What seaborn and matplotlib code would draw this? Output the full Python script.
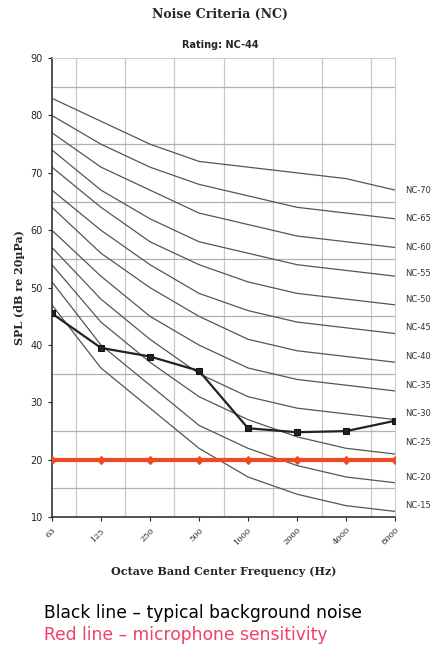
import matplotlib
matplotlib.use("Agg")
import matplotlib.pyplot as plt
import seaborn as sns
import pandas as pd

freqs = ["63", "125", "250", "500", "1000", "2000", "4000", "8000"]
nc_labels = ["NC-15", "NC-20", "NC-25", "NC-30", "NC-35", "NC-40", "NC-45",
             "NC-50", "NC-55", "NC-60", "NC-65", "NC-70"]
nc_curves = [
    [47, 36, 29, 22, 17, 14, 12, 11],
    [51, 40, 33, 26, 22, 19, 17, 16],
    [54, 44, 37, 31, 27, 24, 22, 21],
    [57, 48, 41, 35, 31, 29, 28, 27],
    [60, 52, 45, 40, 36, 34, 33, 32],
    [64, 56, 50, 45, 41, 39, 38, 37],
    [67, 60, 54, 49, 46, 44, 43, 42],
    [71, 64, 58, 54, 51, 49, 48, 47],
    [74, 67, 62, 58, 56, 54, 53, 52],
    [77, 71, 67, 63, 61, 59, 58, 57],
    [80, 75, 71, 68, 66, 64, 63, 62],
    [83, 79, 75, 72, 71, 70, 69, 67],
]
nc_label_y = [12, 17, 23, 28, 33, 38, 43, 48, 52.5, 57, 62, 67]
background = [45.5, 39.5, 38, 35.5, 25.5, 24.8, 25, 26.8]
mic = [20, 20, 20, 20, 20, 20, 20, 20]

sns.set_style("white")
fig = plt.figure(figsize=(4.4, 6.53), dpi=100)
ax = fig.add_axes([0.118, 0.208, 0.78, 0.703])
xs = list(range(len(freqs)))

for lab, vals, ly in zip(nc_labels, nc_curves, nc_label_y):
    sns.lineplot(x=xs, y=vals, ax=ax, color="#555555", lw=0.9, zorder=2)
    ax.text(7.2, ly, lab, fontsize=6, va="center", ha="left", color="#333333")

sns.lineplot(x=xs, y=background, ax=ax, color="#222222", lw=1.6, marker="s",
             markersize=5, markeredgecolor="#111111", zorder=4)
sns.lineplot(x=xs, y=mic, ax=ax, color="#f04a23", lw=3, marker="D",
             markersize=4.5, markeredgecolor="#f04a23", zorder=5)

ax.set_xlim(0, 7)
ax.set_ylim(10, 90)
ax.set_xticks(xs)
ax.set_xticklabels(freqs, rotation=45, fontsize=6, family="serif", ha="right",
                   rotation_mode="anchor")
ax.set_yticks(range(10, 91, 10))
ax.tick_params(axis="y", labelsize=7, length=3, direction="out", left=True)
ax.tick_params(axis="x", length=3, direction="out", bottom=True)
for v in [x + 0.5 for x in range(7)]:
    ax.axvline(v, color="#c8c8c8", lw=0.9, zorder=1)
for h in range(15, 90, 10):
    ax.axhline(h, color="#b0b0b0", lw=0.9, zorder=1)
for s in ["top", "right"]:
    ax.spines[s].set_color("#cccccc")
for s in ["left", "bottom"]:
    ax.spines[s].set_color("#333333")
    ax.spines[s].set_linewidth(1.2)

ax.set_ylabel("SPL (dB re 20\u00b5Pa)", fontsize=8, family="serif", fontweight="bold")
ax.set_xlabel("Octave Band Center Frequency (Hz)", fontsize=8, family="serif",
              fontweight="bold", labelpad=14)
fig.text(0.5, 0.978, "Noise Criteria (NC)", ha="center", va="center",
         fontsize=9, family="serif", fontweight="bold")
fig.text(0.5, 0.931, "Rating: NC-44", ha="center", va="center",
         fontsize=7, fontweight="bold")
fig.text(0.1, 0.061, "Black line \u2013 typical background noise", fontsize=12.3,
         color="black", va="center")
fig.text(0.1, 0.027, "Red line \u2013 microphone sensitivity", fontsize=12.3,
         color="#f0406a", va="center")

fig.savefig("out.png", dpi=100)
